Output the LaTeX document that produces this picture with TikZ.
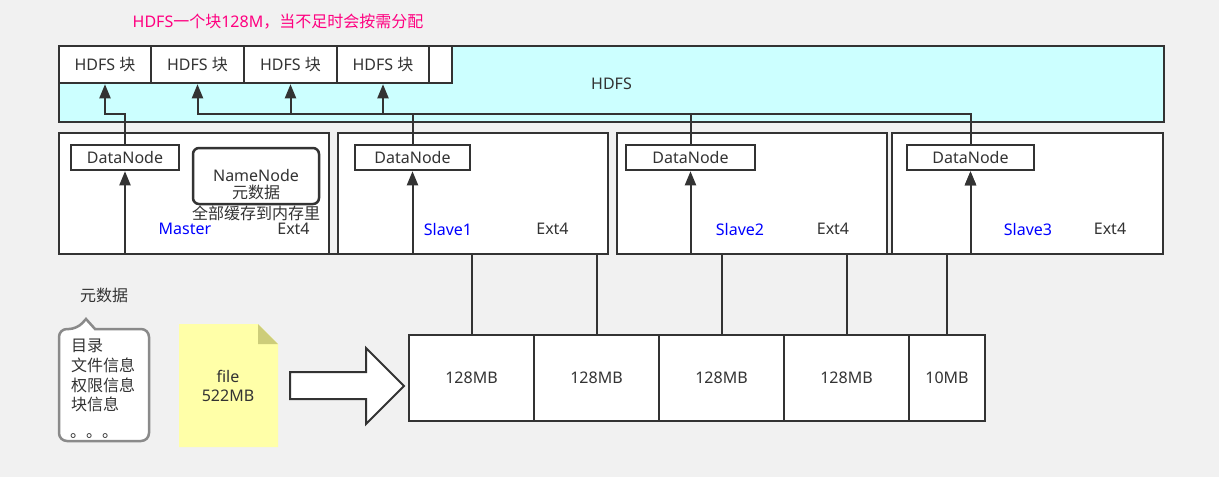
\documentclass[tikz,border=0pt]{standalone}
\usepackage{fontspec}
\setmainfont{Noto Sans}
\newfontfamily\cjk{Noto Sans CJK SC}
\usetikzlibrary{arrows.meta,calc}
\definecolor{ln}{HTML}{333333}
\definecolor{bg}{HTML}{F1F1F1}
\definecolor{cyanfill}{HTML}{CCFFFF}
\definecolor{titlecol}{HTML}{FF0080}
\definecolor{lblue}{HTML}{0000FF}
\definecolor{notey}{HTML}{FFFFA8}
\definecolor{notefold}{HTML}{CDCD7A}
\definecolor{callgray}{HTML}{8A8A8A}
\begin{document}
\begin{tikzpicture}[x=1pt,y=-1pt,
  txt/.style={text=ln, font=\fontsize{16}{19.7}\selectfont, inner sep=0pt},
  box/.style={draw=ln, line width=2.5pt, fill=white, inner sep=0pt},
  cell/.style={box, minimum height=37pt, txt},
  srv/.style={box, minimum width=270pt, minimum height=121pt},
  dn/.style={box, minimum height=25pt, txt},
  blk/.style={box, minimum height=86pt, txt},
  conn/.style={draw=ln, line width=2pt},
  arr/.style={conn, -{Triangle[length=14pt,width=11pt]}},
  blue/.style={txt, text=lblue},
]
\fill[bg] (0,0) rectangle (1219,477);
\useasboundingbox (0,0) rectangle (1219,477);

% title
\node[txt, text=titlecol] (title) at (278,22) {HDFS{\cjk 一个块}128M{\cjk ，当不足时会按需分配}};

% HDFS area
\node[box, fill=cyanfill, minimum width=1105pt, minimum height=76pt, txt] (hdfs) at (611.5,84) {HDFS};
\node[cell, minimum width=92pt] (hb1) at (105,64.5) {HDFS {\cjk 块}};
\node[cell, minimum width=93pt] (hb2) at (197.5,64.5) {HDFS {\cjk 块}};
\node[cell, minimum width=93pt] (hb3) at (290.5,64.5) {HDFS {\cjk 块}};
\node[cell, minimum width=92pt] (hb4) at (383,64.5) {HDFS {\cjk 块}};
\node[cell, minimum width=23pt] (hb5) at (440.5,64.5) {};

% servers
\node[srv] (master) at (194,193.5) {};
\node[srv] (slave1) at (473,193.5) {};
\node[srv] (slave2) at (752,193.5) {};
\node[srv, minimum width=271pt] (slave3) at (1027.5,193.5) {};

% bottom blocks
\node[blk, minimum width=125pt] (b1) at (471.5,378) {128MB};
\node[blk, minimum width=125pt] (b2) at (596.5,378) {128MB};
\node[blk, minimum width=125pt] (b3) at (721.5,378) {128MB};
\node[blk, minimum width=125pt] (b4) at (846.5,378) {128MB};
\node[blk, minimum width=76pt] (b5) at (947,378) {10MB};

% datanodes
\node[dn, minimum width=108pt] (dn0) at (125,157.5) {DataNode};
\node[dn, minimum width=115pt] (dn1) at (412.5,157.5) {DataNode};
\node[dn, minimum width=129pt] (dn2) at (690.5,157.5) {DataNode};
\node[dn, minimum width=127pt] (dn3) at (970.5,157.5) {DataNode};

% connectors blocks -> datanodes
\coordinate (lowbus) at (0,254);
\draw[arr] (b1.north) -- (b1.north |- lowbus) -| (dn0.south);
\draw[arr] (b2.north) -- (b2.north |- lowbus) -| (dn1.south);
\draw[arr] (b3.north) -- (b3.north |- lowbus) -| (dn2.south);
\draw[arr] (b4.north) -- (b4.north |- lowbus) -| (dn3.south);
\draw[arr] (b5.north) -- (b5.north |- lowbus) -| (dn3.south);

% connectors datanodes -> hdfs blocks
\coordinate (topbus) at (0,114);
\draw[arr] (dn0.north) -- (dn0.north |- topbus) -| (hb1.south);
\draw[arr] (dn1.north) -- (dn1.north |- topbus) -| (hb2.south);
\draw[arr] (dn2.north) -- (dn2.north |- topbus) -| (hb3.south);
\draw[arr] (dn3.north) -- (dn3.north |- topbus) -| (hb4.south);

% namenode
\node[draw=ln, line width=2.5pt, fill=white, rounded corners=6pt, minimum width=126pt, minimum height=56pt] (nn) at (256,176) {};
\node[txt, align=center, font=\fontsize{16}{17}\selectfont] (nntext) at (256,185) {NameNode\\{\cjk 元数据}};
\node[txt, font=\fontsize{16}{19.7}\selectfont\cjk] (cache) at (256,213) {全部缓存到内存里};

% labels
\node[blue] (lm) at (185,229) {Master};
\node[txt] (em) at (293.5,229) {Ext4};
\node[blue] (l1) at (448,229) {Slave1};
\node[txt] (e1) at (552.5,229) {Ext4};
\node[blue] (l2) at (740,229) {Slave2};
\node[txt] (e2) at (833,229) {Ext4};
\node[blue] (l3) at (1028,229) {Slave3};
\node[txt] (e3) at (1110,229) {Ext4};

% metadata callout
\node[txt, font=\fontsize{16}{19.7}\selectfont\cjk] (metatitle) at (104,295) {元数据};
\draw[draw=callgray, line width=2.5pt, fill=white, rounded corners=8pt]
  (59,385) -- (59,329) -- (77,329) [sharp corners] -- (86,319) -- (95,329) [rounded corners=8pt] -- (149,329) -- (149,441) -- (59,441) -- cycle;
\node[txt, anchor=north west, align=left, font=\fontsize{16}{19.7}\selectfont\cjk] (meta) at (71,339) {目录\\文件信息\\权限信息\\块信息};
\node[txt, anchor=base west, font=\fontsize{16}{19.7}\selectfont\cjk] (dots) at (70,437) {。。。};

% file note
\fill[notey] (179,324) -- (258,324) -- (278,344) -- (278,447) -- (179,447) -- cycle;
\fill[notefold] (258,324) -- (278,344) -- (258,344) -- cycle;
\node[txt, align=center] (file) at (228,386) {file\\522MB};

% big arrow
\draw[draw=ln, line width=2pt, fill=white, line join=miter]
  (290,372) -- (366,372) -- (366,348) -- (404,386) -- (366,424) -- (366,399) -- (290,399) -- cycle;
\end{tikzpicture}
\end{document}
